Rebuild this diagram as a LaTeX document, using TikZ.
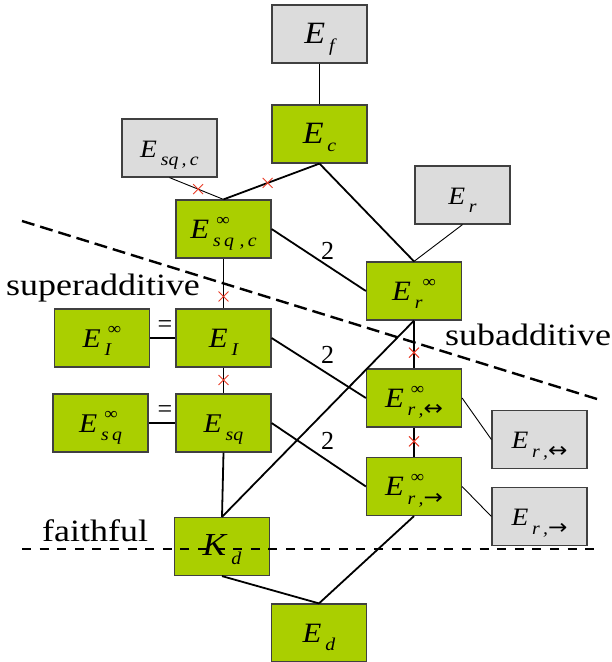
\documentclass[tikz,border=0pt]{standalone}
\usepackage{fontspec}
\setmainfont{Liberation Serif}
\newfontfamily\arrowfont{DejaVu Sans}
\usetikzlibrary{shapes.misc}
\definecolor{boxgreen}{RGB}{170,207,0}
\definecolor{boxgray}{RGB}{220,220,220}
\definecolor{xred}{RGB}{232,60,40}
\newsavebox\supbx
\newsavebox\subbx
\newlength\labw
\newcommand\arr[1]{{\arrowfont\upshape\fontsize{21}{21}\selectfont #1}}
\newcommand\lab[4][26]{%
  \sbox\supbx{\fontsize{17}{17}\selectfont\kern3pt #3}%
  \sbox\subbx{\fontsize{18}{18}\selectfont\itshape #4}%
  \setlength\labw{\wd\subbx}%
  \ifdim\wd\supbx>\labw \setlength\labw{\wd\supbx}\fi
  \scalebox{1.1}[1]{\fontsize{#1}{#1}\selectfont\textit{#2}\kern3.5pt
  \makebox[\labw][l]{\rlap{\raisebox{13pt}{\usebox\supbx}}\raisebox{-8.5pt}{\usebox\subbx}}}}
\newcommand\wordlab[1]{\scalebox{1.16}[1]{\fontsize{31}{31}\selectfont #1}}
\begin{document}
\begin{tikzpicture}[x=1pt,y=-1pt,
  box/.style={draw=black!75, line width=1.2pt, minimum width=95pt, minimum height=58pt,
    inner sep=1pt, text height=24pt, text depth=6pt},
  greenbox/.style={box, fill=boxgreen},
  greybox/.style={box, fill=boxgray},
  conn/.style={line width=1.8pt},
  thinconn/.style={line width=0.9pt},
  xmark/.style={cross out, draw=xred, line width=0.9pt, minimum size=9pt, inner sep=0pt},
  divider/.style={line width=2.4pt},
  numlab/.style={inner sep=0pt, font=\fontsize{26}{26}\selectfont},
  wordnode/.style={inner sep=0pt, anchor=base west}]
\useasboundingbox (0,0) rectangle (612,662);

% nodes
\node[greybox]  (Ef)   at (319.5,34)  {\lab[31]{E}{}{f}};
\node[greenbox] (Ec)   at (319.5,134) {\lab[31]{E}{}{c}};
\node[greybox]  (Esqc) at (169.5,148) {\lab[25]{E}{}{sq\,,\,c}};
\node[greenbox] (Esqci) at (223.5,229) {\lab[28]{E}{∞}{s\,q\;,\,c}};
\node[greybox]  (Er)   at (462.5,195) {\lab[25]{E}{}{r}};
\node[greenbox] (Eri)  at (414,291)   {\lab[28]{E}{\kern4pt∞}{r}};
\node[greenbox] (EIi)  at (102,338)   {\lab[27]{E}{∞}{I}};
\node[greenbox] (EI)   at (223.5,338) {\lab[28]{E}{}{I}};
\node[greenbox] (Esqi) at (100.5,423) {\lab[27]{E}{∞}{s\,q}};
\node[greenbox] (Esq)  at (223.5,423) {\lab[27]{E}{}{sq}};
\node[greenbox] (Erlr) at (414,398)   {\lab[28]{E}{∞}{r\,,\arr{↔}}};
\node[greenbox] (Erra) at (414,486.5) {\lab[28]{E}{∞}{r\,,\arr{→}}};
\node[greybox]  (Grlr) at (539.5,439.5) {\lab[25]{E}{}{r\,,\arr{↔}}};
\node[greybox]  (Grra) at (539.5,516.5) {\lab[25]{E}{}{r\,,\arr{→}}};
\node[greenbox] (Kd)   at (222,546.5) {\lab[32]{K}{}{d}};
\node[greenbox] (Ed)   at (319,633)   {\lab[28]{E}{}{d}};

% connectors
\draw[thinconn] (Ef.south) -- (Ec.north);
\draw[conn] (Ec.south) -- node[xmark, pos=0.54] (x1) {} (Esqci.north);
\draw[conn] (Ec.south) -- (Eri.north);
\draw[thinconn] (Esqc.south) -- node[xmark, pos=0.53] (x2) {} (Esqci.north);
\draw[conn] (Esqci.east) -- (Eri.west);
\draw[conn] (Esqci.south) -- node[xmark, pos=0.76] (x3) {} (EI.north);
\draw[conn] (EI.south) -- node[xmark, pos=0.48] (x4) {} (Esq.north);
\draw[conn] (Esq.south) -- (Kd.north);
\draw[conn] (EIi.east) -- (EI.west);
\draw[conn] (Esqi.east) -- (Esq.west);
\draw[thinconn] (Er.south) -- (Eri.north);
\draw[conn] (Eri.south) -- node[xmark, pos=0.67] (x5) {} (Erlr.north);
\draw[conn] (Erlr.south) -- node[xmark, pos=0.47] (x6) {} (Erra.north);
\draw[thinconn] (Erlr.east) -- (Grlr.west);
\draw[thinconn] (Erra.east) -- (Grra.west);
\draw[conn] (Eri.south) -- (Kd.north);
\draw[conn] (Erra.south) -- (Ed.north);
\draw[conn] (Kd.south) -- (Ed.north);
\draw[conn] (EI.east) -- (Erlr.west);
\draw[conn] (Esq.east) -- (Erra.west);

% edge labels
\node[numlab] (two1) at (327.5,251) {2};
\node[numlab] (two2) at (327.5,355) {2};
\node[numlab] (two3) at (327.5,441) {2};
\node[numlab] (eq1) at (165,326.5) {=};
\node[numlab] (eq2) at (165,412) {=};

% dividers
\coordinate (d1a) at (22,221);
\coordinate (d1b) at (597,399);
\coordinate (d2a) at (22,549);
\coordinate (d2b) at (597,549);
\draw[divider, dash pattern=on 13pt off 6pt] (d1a) -- (d1b);
\draw[divider, dash pattern=on 9pt off 8.6pt] (d2a) -- (d2b);

\node[wordnode] (wsup) at (6,295) {\wordlab{superadditive}};
\node[wordnode] (wsub) at (445,345) {\wordlab{subadditive}};
\node[wordnode] (wfai) at (42,541.5) {\wordlab{faithful}};
\end{tikzpicture}
\end{document}
